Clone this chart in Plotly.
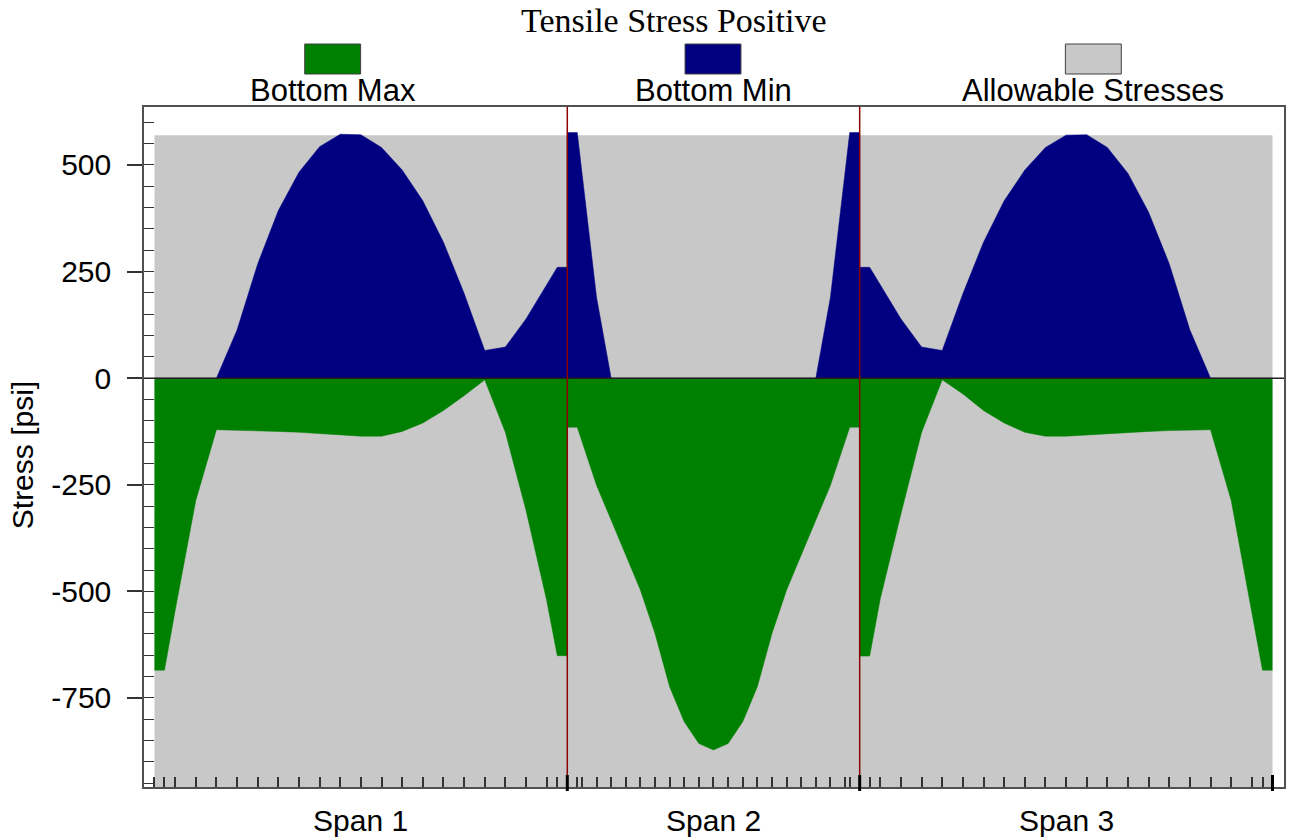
import plotly.graph_objects as go

# ---------------- data ----------------
span_names = ["Span 1", "Span 2", "Span 3"]
span_lengths = [120.0, 85.0, 120.0]  # ft

# analysis points along each span (local distance, ft)
span1_pos = [0, 2.9, 6, 12, 18, 24, 30, 36, 42, 48, 54, 60, 66, 72, 78, 84, 90, 96, 102, 108, 114, 117.1, 120]
span2_pos = [0, 2.9, 4.25, 8.5, 12.75, 17, 21.25, 25.5, 29.75, 34, 38.25, 42.5, 46.75, 51, 55.25,
             59.5, 63.75, 68, 72.25, 76.5, 80.75, 82.1, 85]
span3_pos = [0, 2.9, 6, 12, 18, 24, 30, 36, 42, 48, 54, 60, 66, 72, 78, 84, 90, 96, 102, 108, 114, 117.1, 120]

# Bottom Max (compression, psi)
bot_max_span1 = [-685, -685, -545, -287, -121, -122, -123, -125, -127, -130, -134, -136, -136,
                 -125, -105, -76, -41, -4, -127, -310, -521, -651, -651]
bot_max_span2 = [-115, -115, -148, -251, -333, -415, -497, -599, -724, -806, -857, -872, -857,
                 -806, -724, -599, -497, -415, -333, -251, -148, -115, -115]
bot_max_span3 = [-652, -652, -517, -318, -127, -4, -37, -76, -105, -127, -136, -136, -133,
                 -130, -127, -125, -123, -122, -121, -287, -548, -685, -685]

# Bottom Min (tension, psi)
bot_min_span1 = [0, 0, 0, 0, 0, 113, 268, 393, 483, 543, 572, 571, 541,
                 488, 416, 319, 199, 65, 73, 139, 218, 260, 260]
bot_min_span2 = [576, 576, 482, 190, 0, 0, 0, 0, 0, 0, 0, 0, 0,
                 0, 0, 0, 0, 0, 0, 190, 482, 576, 576]
bot_min_span3 = [260, 260, 218, 139, 73, 65, 198, 319, 416, 488, 541, 570, 571,
                 541, 480, 389, 268, 113, 0, 0, 0, 0, 0]

allowable_tension = 570       # psi
allowable_compression = -2250  # psi (below the visible range)

legend_names = ["Bottom Max", "Bottom Min", "Allowable Stresses"]
legend_colors = ["#008000", "#000080", "#c8c8c8"]

y_tick_vals = [-750, -500, -250, 0, 250, 500]
y_tick_text = ["-750", "-500", "-250", "0", "250", "500"]

# ---------------- build global positions ----------------
offsets = [0.0]
for L in span_lengths[:-1]:
    offsets.append(offsets[-1] + L)
total_len = sum(span_lengths)

span_pos = [span1_pos, span2_pos, span3_pos]
bmax = [bot_max_span1, bot_max_span2, bot_max_span3]
bmin = [bot_min_span1, bot_min_span2, bot_min_span3]

x_all, ymax_all, ymin_all = [], [], []
for off, pos, a, b in zip(offsets, span_pos, bmax, bmin):
    for p, va, vb in zip(pos, a, b):
        x_all.append(off + p)
        ymax_all.append(va)
        ymin_all.append(vb)

# ---------------- figure ----------------
W, H = 1293, 840
ML, MR, MT, MB = 144, 7, 107, 53
PW, PH = W - ML - MR, H - MT - MB


def px_x(px):
    return (px - ML) / PW


def px_y(py):
    return (H - MB - py) / PH


fig = go.Figure()
fig.add_trace(go.Scatter(x=[0, total_len], y=[allowable_compression] * 2, mode="lines",
                         line=dict(width=0, color=legend_colors[2]), showlegend=False, hoverinfo="skip"))
fig.add_trace(go.Scatter(x=[0, total_len], y=[allowable_tension] * 2, mode="lines",
                         line=dict(width=0, color=legend_colors[2]), fill="tonexty",
                         fillcolor=legend_colors[2], name=legend_names[2], showlegend=False))
fig.add_trace(go.Scatter(x=x_all, y=ymax_all, mode="lines", fill="tozeroy",
                         line=dict(width=0.5, color=legend_colors[0]), fillcolor=legend_colors[0],
                         name=legend_names[0], showlegend=False))
fig.add_trace(go.Scatter(x=x_all, y=ymin_all, mode="lines", fill="tozeroy",
                         line=dict(width=0.5, color=legend_colors[1]), fillcolor=legend_colors[1],
                         name=legend_names[1], showlegend=False))

shapes = []
# zero line
shapes.append(dict(type="line", xref="paper", yref="y", x0=0, x1=1, y0=0, y1=0,
                   line=dict(color="#202020", width=1.5), layer="above"))
# support lines
supports = offsets[1:]
for s in supports:
    shapes.append(dict(type="line", xref="x", yref="paper", x0=s, x1=s, y0=0, y1=1,
                       line=dict(color="#8b0000", width=1.5), layer="above"))
for s in supports + [total_len]:
    shapes.append(dict(type="line", xref="x", yref="paper", x0=s, x1=s, y0=-4 / PH, y1=12 / PH,
                       line=dict(color="#000000", width=3), layer="above"))

annotations = []
# legend (swatch above label)
legend_centers_px = [333, 714, 1095]
for name, col, cx in zip(legend_names, legend_colors, legend_centers_px):
    shapes.append(dict(type="rect", xref="paper", yref="paper",
                       x0=px_x(cx - 28), x1=px_x(cx + 28), y0=px_y(74), y1=px_y(44),
                       fillcolor=col, line=dict(color="#404040", width=1)))
    annotations.append(dict(text=name, xref="paper", yref="paper", x=px_x(cx), y=px_y(90),
                            xanchor="center", yanchor="middle", showarrow=False,
                            font=dict(family="Liberation Sans, Arial", size=31, color="#000")))

# title
annotations.append(dict(text="Tensile Stress Positive", xref="paper", yref="paper",
                        x=px_x(675), y=px_y(20), xanchor="center", yanchor="middle",
                        showarrow=False,
                        font=dict(family="Liberation Serif, Times New Roman", size=34, color="#000")))

# y-axis title
annotations.append(dict(text="Stress [psi]", xref="paper", yref="paper",
                        x=px_x(22), y=px_y(455), xanchor="center", yanchor="middle",
                        textangle=-90, showarrow=False,
                        font=dict(family="Liberation Sans, Arial", size=30, color="#000")))

# span labels
for name, off, L in zip(span_names, offsets, span_lengths):
    annotations.append(dict(text=name, xref="x", yref="paper", x=off + L / 2, y=px_y(820),
                            xanchor="center", yanchor="middle", showarrow=False,
                            font=dict(family="Liberation Sans, Arial", size=30, color="#000")))

fig.update_layout(
    width=W, height=H,
    margin=dict(l=ML, r=MR, t=MT, b=MB, pad=0),
    paper_bgcolor="white", plot_bgcolor="white",
    showlegend=False,
    shapes=shapes, annotations=annotations,
    font=dict(family="Liberation Sans, Arial", size=30, color="#000"),
)

fig.update_xaxes(
    range=[-3.05, 328.35], showgrid=False, zeroline=False,
    showline=True, linecolor="#505050", linewidth=1.5, mirror=True,
    tickmode="array", tickvals=x_all, ticktext=[""] * len(x_all),
    ticks="inside", ticklen=10, tickwidth=1.5, tickcolor="#333333",
)
fig.update_yaxes(
    range=[-959, 636], showgrid=False, zeroline=False,
    showline=True, linecolor="#505050", linewidth=1.5, mirror=True,
    tickmode="array", tickvals=y_tick_vals, ticktext=y_tick_text,
    ticks="outside", ticklen=15, tickwidth=1.5, tickcolor="#333333",
    ticklabelstandoff=10,
    tickfont=dict(family="Liberation Sans, Arial", size=30, color="#000"),
    minor=dict(ticks="inside", ticklen=10, tickwidth=1, tickcolor="#333333",
               tickmode="linear", tick0=0, dtick=50),
)

fig.write_html("out.html")
